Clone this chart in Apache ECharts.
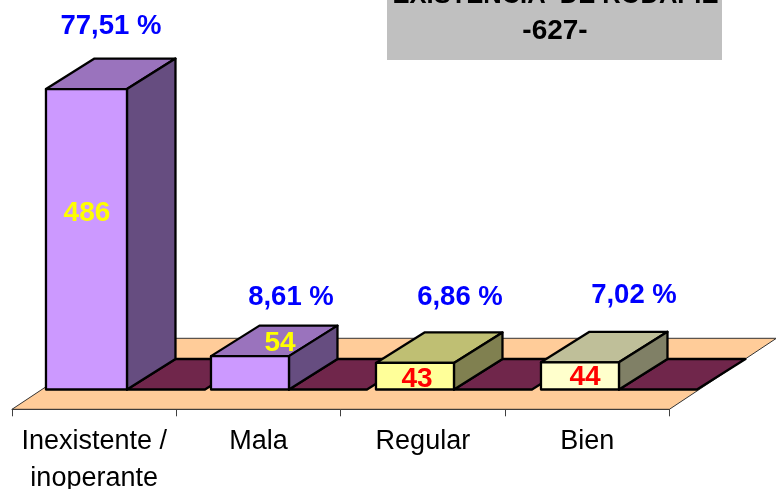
<!DOCTYPE html>
<html><head><meta charset="utf-8">
<style>html,body{margin:0;padding:0;background:#fff}#c{width:776px;height:489px}</style>
<script src="https://cdn.jsdelivr.net/npm/echarts@6/dist/echarts.min.js"></script>
</head><body><div id="c"></div>
<script>
const categories = ['Inexistente /\ninoperante', 'Mala', 'Regular', 'Bien'];
const counts = [486, 54, 43, 44];
const percents = ['77,51 %', '8,61 %', '6,86 %', '7,02 %'];
const titleLines = ['EXISTENCIA  DE RODAPIE', '-627-'];

// look of each bar: front, top, side
const frontColors = ['#CC99FF', '#CC99FF', '#FFFF99', '#FFFFCC'];
const topColors = ['#9A73BD', '#9A73BD', '#BFBF73', '#BFBF99'];
const sideColors = ['#664D80', '#664D80', '#808050', '#808066'];
const countColors = ['#FFFF00', '#FFFF00', '#FF0000', '#FF0000'];
// hand-placed labels: offsets from the bar's front-left base corner
const countOffset = [[41, -176], [69, -46], [41, -10], [44, -12]];
// and from its front-left top corner
const percentOffset = [[65, -63], [80, -59], [84, -66], [93, -67]];

const depthX = 48.5, depthY = 30.5, barFrac = 78 / 164.35, firstBarExtra = 3, shift = -48.2, drift = 0.65;
const chart = echarts.init(document.getElementById('c'));
const poly = (points, fill, lw, stroke) => ({
  type: 'polygon', shape: { points },
  style: { fill, stroke: stroke || '#000', lineWidth: lw, lineJoin: 'round' }
});
const rows = counts.map((v, i) => [i, v]);
const leftEdge = (api, i) => api.coord([api.value(0), 0])[0] + shift + i * drift;
const barWidth = (api, i) => api.size([1, 0])[0] * barFrac + (i === 0 ? firstBarExtra : 0);

chart.setOption({
  animation: false,
  grid: { left: 12, top: 0, width: 657.4, height: 409.3, outerBoundsMode: 'none' },
  xAxis: {
    type: 'category', data: categories,
    axisLine: { show: true, onZero: false, lineStyle: { color: '#404040', width: 1 } },
    axisTick: { show: true, length: 7, lineStyle: { color: '#404040', width: 1 } },
    axisLabel: { color: '#000', fontFamily: 'Liberation Sans', fontSize: 27, lineHeight: 37, margin: 14, interval: 0 }
  },
  yAxis: { type: 'value', min: -32, max: 630, show: false },
  series: [
    {
      type: 'custom', z: 1, data: [[0, 0]], encode: { x: 0, y: 1 },
      renderItem(params) {
        const g = params.coordSys;
        const b = g.y + g.height, dx = 107, dy = 71;
        return poly([[g.x, b], [g.x + g.width, b], [g.x + g.width + dx, b - dy], [g.x + dx, b - dy]], '#FFCC99', 1, '#333');
      }
    },
    {
      type: 'custom', z: 2, data: rows, encode: { x: 0, y: 1 },
      renderItem(params, api) {
        const i = params.dataIndex;
        const w = api.size([1, 0])[0] * barFrac;
        const r = leftEdge(api, i) + barWidth(api, i), b = api.coord([api.value(0), 0])[1];
        return poly([[r, b], [r + w, b], [r + w + depthX, b - depthY], [r + depthX, b - depthY]], '#70264B', 2.3);
      }
    },
    {
      type: 'custom', z: 3, data: rows, encode: { x: 0, y: 1 },
      renderItem(params, api) {
        const i = params.dataIndex;
        const base = api.coord([api.value(0), 0]);
        const top = api.coord([api.value(0), api.value(1)]);
        const l = leftEdge(api, i), r = l + barWidth(api, i), b = base[1], t = top[1];
        const text = (str, x, y, fill, size) => ({
          type: 'text', z2: 10,
          style: { text: str, x, y, fill, align: 'center', verticalAlign: 'middle',
            font: 'bold ' + size + 'px "Liberation Sans"' }
        });
        return {
          type: 'group',
          children: [
            poly([[l, t], [r, t], [r + depthX, t - depthY], [l + depthX, t - depthY]], topColors[i], 2.3),
            poly([[r, b], [r, t], [r + depthX, t - depthY], [r + depthX, b - depthY]], sideColors[i], 2.3),
            poly([[l, b], [r, b], [r, t], [l, t]], frontColors[i], 2.3),
            text(String(api.value(1)), l + countOffset[i][0], b + countOffset[i][1], countColors[i], 28),
            text(percents[i], l + percentOffset[i][0], t + percentOffset[i][1], '#0000FF', 27.5)
          ]
        };
      }
    }
  ],
  graphic: [
    { type: 'rect', z: 0, shape: { x: 387, y: 0, width: 335, height: 60 }, style: { fill: '#C0C0C0' } },
    { type: 'text', z: 1, style: { text: titleLines[0], x: 555.5, y: -4, align: 'center', verticalAlign: 'middle', fill: '#000', font: 'bold 25.5px "Liberation Sans"' } },
    { type: 'text', z: 1, style: { text: titleLines[1], x: 555, y: 31, align: 'center', verticalAlign: 'middle', fill: '#000', font: 'bold 28px "Liberation Sans"' } }
  ]
});
</script></body></html>
